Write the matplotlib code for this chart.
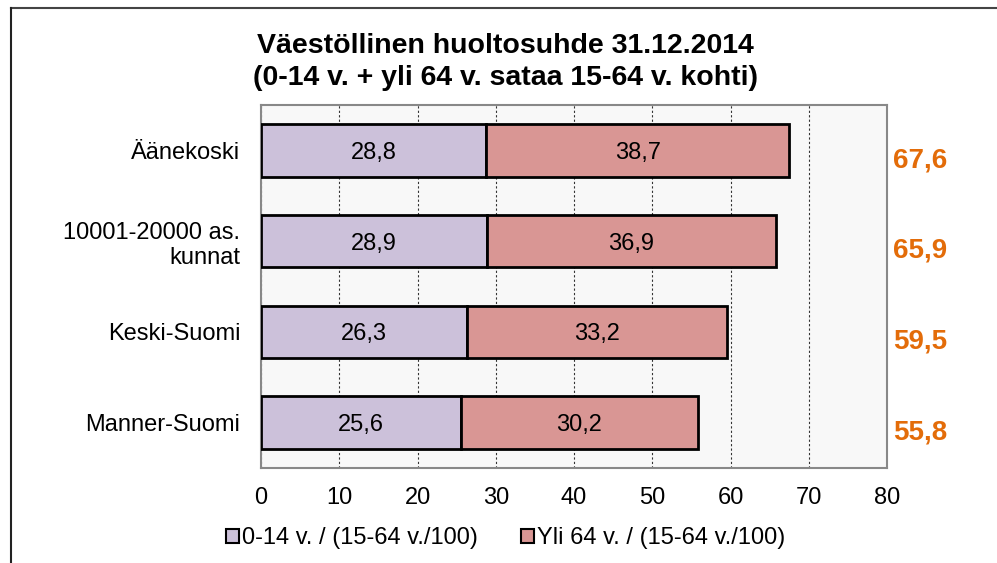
import matplotlib
matplotlib.use("Agg")
import matplotlib.pyplot as plt
from matplotlib.patches import Patch
from matplotlib.lines import Line2D

plt.rcParams["font.family"] = ["Liberation Sans", "DejaVu Sans"]

categories = ["Äänekoski", "10001-20000 as.\nkunnat", "Keski-Suomi", "Manner-Suomi"]
young = [28.8, 28.9, 26.3, 25.6]
old = [38.7, 36.9, 33.2, 30.2]
totals = [67.6, 65.9, 59.5, 55.8]
series_names = ["0-14 v. / (15-64 v./100)", "Yli 64 v. / (15-64 v./100)"]
colors = ["#CCC1DA", "#D99694"]

fig = plt.figure(figsize=(9.97, 5.63), dpi=100)
ax = fig.add_axes([0.2618, 0.1687, 0.6279, 0.6448])
ax.set_facecolor("#F8F8F8")

y = list(range(len(categories)))
ax.barh(y, young, height=0.58, color=colors[0], edgecolor="black", linewidth=2, zorder=3)
ax.barh(y, old, left=young, height=0.58, color=colors[1], edgecolor="black", linewidth=2, zorder=3)

for i in y:
    ax.text(young[i] / 2, i, f"{young[i]:.1f}".replace(".", ","), ha="center", va="center_baseline",
            fontsize=17, zorder=4)
    ax.text(young[i] + old[i] / 2, i, f"{old[i]:.1f}".replace(".", ","), ha="center",
            va="center_baseline", fontsize=17, zorder=4)
    ax.annotate(f"{totals[i]:.1f}".replace(".", ","), xy=(1.01, i), xycoords=("axes fraction", "data"),
                xytext=(0, -7), textcoords="offset points", ha="left", va="center",
                fontsize=20, fontweight="bold", color="#E36C09")

ax.set_xlim(0, 80)
ax.set_ylim(3.5, -0.5)
ax.set_xticks(range(0, 81, 10))
ax.set_yticks(y)
ax.set_yticklabels(categories, fontsize=17, ha="right")
ax.tick_params(axis="x", labelsize=17, length=0, pad=14)
ax.tick_params(axis="y", length=0, pad=15)
for t in ax.get_yticklabels():
    t.set_multialignment("right")
ax.grid(axis="x", color="#333333", linestyle=(0, (2, 2)), linewidth=0.8, zorder=0)
for s in ax.spines.values():
    s.set_color("#888888")
    s.set_linewidth(1.5)

fig.text(0.507, 0.889, "Väestöllinen huoltosuhde 31.12.2014\n(0-14 v. + yli 64 v. sataa 15-64 v. kohti)",
         ha="center", va="center", fontsize=20.5, fontweight="bold", linespacing=1.3)

handles = [Patch(facecolor=c, edgecolor="black", linewidth=1.5) for c in colors]
fig.legend(handles, series_names, loc="center", bbox_to_anchor=(0.507, 0.044), ncol=2,
           frameon=False, fontsize=17, handlelength=0.55, handleheight=0.55, handletextpad=0.15,
           columnspacing=1.8)

# outer chart frame (top and left visible)
fig.add_artist(Line2D([0.011, 1.0], [1 - 8 / 563, 1 - 8 / 563], color="#444444", linewidth=1.5))
fig.add_artist(Line2D([0.011, 0.011], [0, 1 - 8 / 563], color="#222222", linewidth=1.5))

fig.savefig("out.png", dpi=100)
